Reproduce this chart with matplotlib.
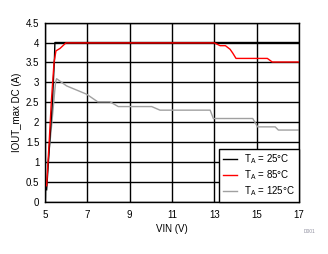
import matplotlib
matplotlib.use("Agg")
import matplotlib.pyplot as plt

plt.rcParams['font.family'] = ['Liberation Sans', 'DejaVu Sans']
plt.rcParams['font.size'] = 7

# ====== data ======
vin_25 = [5.08, 5.2, 5.35, 5.45, 5.47, 17.0]
iout_25 = [0.3, 1.3, 2.5, 3.6, 4.0, 4.0]

vin_85 = [5.08, 5.2, 5.3, 5.43, 5.52, 5.71, 5.99, 13.0, 13.27, 13.52, 13.74, 13.87, 14.02, 15.5, 15.73, 17.0]
iout_85 = [0.4, 1.5, 2.5, 3.5, 3.79, 3.85, 3.99, 3.99, 3.92, 3.92, 3.83, 3.73, 3.6, 3.6, 3.51, 3.51]

vin_125 = [5.03, 5.15, 5.33, 5.5, 5.55, 6.02, 6.97, 7.49, 8.07, 8.46, 10.04, 10.43, 12.8, 12.95, 14.81, 15.04, 15.87, 16.02, 17.0]
iout_125 = [0.1, 1.0, 2.0, 3.0, 3.09, 2.91, 2.70, 2.51, 2.51, 2.39, 2.39, 2.30, 2.30, 2.09, 2.09, 1.88, 1.88, 1.80, 1.80]

x_ticks = [5, 7, 9, 11, 13, 15, 17]
y_ticks = [0, 0.5, 1, 1.5, 2, 2.5, 3, 3.5, 4, 4.5]

# ====== plot ======
fig = plt.figure(figsize=(3.28, 2.54), dpi=100)
ax = fig.add_axes([0.137, 0.206, 0.775, 0.705])

ax.plot(vin_25, iout_25, color="black", lw=1.0, label="T$_\\mathregular{A}$ = 25°C", zorder=3)
ax.plot(vin_85, iout_85, color="red", lw=1.0, label="T$_\\mathregular{A}$ = 85°C", zorder=4)
ax.plot(vin_125, iout_125, color="#a0a0a0", lw=1.0, label="T$_\\mathregular{A}$ = 125°C", zorder=2)

ax.set_xlim(5, 17)
ax.set_ylim(0, 4.5)
ax.set_xticks(x_ticks)
ax.set_yticks(y_ticks)
ax.set_yticklabels([f"{v:g}" for v in y_ticks])
ax.tick_params(axis="y", length=0, pad=4)
ax.tick_params(axis="x", length=0, pad=6)
ax.grid(True, color="black", lw=1.0)
for s in ax.spines.values():
    s.set_color("black")
    s.set_linewidth(1.0)

ax.set_xlabel("VIN (V)", labelpad=3)
ax.set_ylabel("IOUT_max DC (A)", labelpad=3)

leg = ax.legend(loc="lower right", fancybox=False, edgecolor="black", framealpha=1,
                borderaxespad=0, handlelength=1.4, handletextpad=0.8,
                labelspacing=0.2, borderpad=0.4, fontsize=7)
leg.get_frame().set_linewidth(1.0)

fig.text(0.96, 0.083, "D001", fontsize=3.5, color="#9090a0", ha="right")

plt.savefig("out.png", dpi=100)
plt.close()
